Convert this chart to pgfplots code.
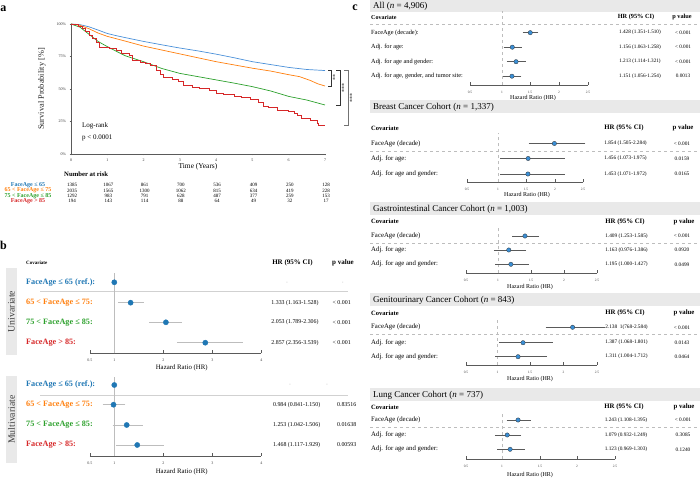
\documentclass[border=0pt]{standalone}
\usepackage{pgfplots}
\usepackage{pgfplotstable}
\pgfplotsset{compat=1.18}
\usepackage{fontspec}
\setmainfont{Liberation Serif}
\definecolor{cblue}{HTML}{1F77B4}
\definecolor{corange}{HTML}{FF7F0E}
\definecolor{cgreen}{HTML}{2CA02C}
\definecolor{cred}{HTML}{D62728}
\definecolor{kmblue}{HTML}{4A90D9}
\definecolor{ptblue}{HTML}{3A8FD6}
\definecolor{boxgray}{HTML}{E9E9E9}
\definecolor{axgray}{HTML}{5A5A5A}
\definecolor{ligray}{HTML}{BDBDBD}
\newcommand{\fs}[1]{\fontsize{#1}{#1}\selectfont}
\newcommand{\T}[4][]{\node[inner sep=0pt,#1] at (#2,478-#3) {#4};}

\pgfplotsset{
  cforest/.style={anchor=south west, x=66pt, y=1pt, enlargelimits=false, clip=false,
    axis x line*=bottom, axis y line=none,
    axis line style={axgray, line width=0.5pt},
    tick style={axgray, line width=0.4pt}, tick align=inside, major tick length=3pt,
    xticklabels={0.5,1,1.5,2,2.5},
    xticklabel style={font={\fs{3.5}}, text=black!75, yshift=-2.5pt},
    /pgf/number format/assume math mode=true},
  bforest/.style={anchor=south west, x=49pt, y=1pt, enlargelimits=false, clip=false,
    xmin=0.5, xmax=4, xtick={0.5,1,2,3,4}, xticklabels={0.5,1,2,3,4},
    axis x line*=bottom, axis y line=none,
    axis line style={axgray, line width=0.4pt},
    tick style={axgray, line width=0.4pt}, tick align=inside, major tick length=3pt,
    xticklabel style={font={\fs{4}}, text=black!75, yshift=-2pt},
    /pgf/number format/assume math mode=true},
  cbars/.style={draw=none, mark=none, forget plot,
    error bars/x dir=both, error bars/x explicit,
    error bars/error bar style={draw=axgray, line width=0.5pt},
    error bars/error mark options={draw=axgray, line width=0.5pt, mark size=2.6pt}},
  cpts/.style={only marks, mark=*, mark size=2.2pt, mark options={fill=ptblue, draw=black!80, line width=0.3pt}},
  bbars/.style={draw=none, mark=none, forget plot,
    error bars/x dir=both, error bars/x explicit,
    error bars/error bar style={draw=ligray, line width=0.5pt},
    error bars/error mark options={draw=ligray, line width=0.5pt, mark size=3.8pt}},
  bpts/.style={only marks, mark=*, mark size=2.6pt, mark options={fill=cblue, draw=cblue}},
}

% ---- panel c data: hr, lower, upper, row position
\pgfplotstableread{
hr lo hi y
1.428 1.351 1.510 445.3
1.156 1.063 1.258 430.8
1.213 1.114 1.321 416.3
1.151 1.056 1.254 401.8
}\tabAll
\pgfplotstableread{
hr lo hi y
1.854 1.505 2.284 334.5
1.456 1.073 1.975 319.5
1.453 1.071 1.972 304
}\tabBreast
\pgfplotstableread{
hr lo hi y
1.409 1.253 1.585 242
1.163 0.976 1.386 228
1.195 1.000 1.427 213.7
}\tabGastro
\pgfplotstableread{
hr lo hi y
2.138 1.768 2.584 150.7
1.387 1.068 1.801 135.3
1.311 1.004 1.712 121.3
}\tabGU
\pgfplotstableread{
hr lo hi y
1.243 1.108 1.395 58
1.079 0.932 1.249 43
1.123 0.969 1.303 28.7
}\tabLung
% ---- panel b data
\pgfplotstableread{
hr lo hi y
1.333 1.163 1.528 175.3
2.053 1.789 2.306 155.7
2.857 2.356 3.539 135.3
}\tabUni
\pgfplotstableread{
hr lo hi y
0.984 0.841 1.150 73.3
1.253 1.042 1.506 53
1.468 1.117 1.929 33
}\tabMulti
% ---- panel a survival curves (time in years, survival in %)
\pgfplotstableread{
t s
0 100
0.25 99.5
0.5 97.8
0.75 95.3
1 92.7
1.25 91
1.5 89.5
2 86.6
2.5 84
3 81.5
3.5 79.3
4 76.8
4.5 74
5 71
5.5 68.8
6 66.6
6.5 65
7 64.2
}\kmA
\pgfplotstableread{
t s
0 100
0.25 99
0.5 96.3
0.75 93
1 90.5
1.5 86.8
2 83
2.5 80
3 77
3.5 74
4 71
4.5 68.5
5 66
5.5 63.8
6 61
6.3 59.5
6.6 56.5
6.8 54
7 52.3
}\kmB
\pgfplotstableread{
t s
0 100
0.25 97.5
0.5 92
0.75 86.5
1 82.6
1.25 79
1.5 75.5
2 71
2.5 65.8
3 62
3.5 59.5
4 57
4.5 54.5
5 51.8
5.5 48.5
6 44.3
6.5 41.5
7 37.7
}\kmC
\pgfplotstableread{
t s
0 100
0.2 98.5
0.3 97
0.4 94
0.5 91
0.6 89
0.7 86
0.78 82
1.05 81
1.25 79.5
1.4 77.5
1.6 76
1.7 72
1.9 70.5
2.05 69.5
2.2 68
2.35 64.5
2.45 61
2.55 59
2.8 57.5
2.95 55.5
3.1 53
3.35 51
3.55 50.3
3.8 49
4.0 47
4.2 45.5
4.5 44.5
4.7 43.5
4.95 42
5.15 39.5
5.3 37
5.45 35.8
5.7 33.5
6.0 32.5
6.15 31
6.25 30
6.35 27.5
6.6 26
6.78 23.5
6.82 22.3
7 22.3
}\kmD

\begin{document}
\begin{tikzpicture}[x=1pt,y=1pt]
\path[use as bounding box] (0,0) rectangle (700,478);

%================ PANEL A =================
\T[font={\fs{12}\bfseries}]{3.5}{9}{a}
\begin{axis}[at={(71pt,324pt)}, anchor=south west, scale only axis, width=254pt, height=130pt,
  xmin=0, xmax=7, ymin=0, ymax=100, axis x line*=bottom, axis y line*=left,
  axis line style={axgray, line width=0.4pt},
  xtick={0,...,7}, ytick={0,25,50,75,100}, yticklabels={0\%,25\%,50\%,75\%,100\%},
  tick style={axgray, line width=0.3pt}, major tick length=1.5pt, tick align=outside,
  ticklabel style={font={\fs{4}}, text=black!80},
  /pgf/number format/assume math mode=true, clip=false]
\addplot[kmblue, line width=0.7pt] table[x=t,y=s] {\kmA};
\addplot[corange, line width=0.7pt] table[x=t,y=s] {\kmB};
\addplot[cgreen, line width=0.7pt] table[x=t,y=s] {\kmC};
\addplot[cred, line width=0.7pt, const plot] table[x=t,y=s] {\kmD};
\end{axis}
\node[rotate=90, font={\fs{8.3}}, text=black!85] at (42,478-89) {Survival Probability [\%]};
\T[font={\fs{7.4}}]{198}{167}{Time (Years)}
\T[anchor=west,font={\fs{7}}]{82}{126}{Log-rank}
\T[anchor=west,font={\fs{7}}]{82}{138}{p < 0.0001}
% significance brackets
\draw[black!80, line width=0.5pt] (328,478-70.5) -- (331,478-70.5) -- (331,478-86) -- (328,478-86);
\node[rotate=90, font={\fs{6}}] at (335,478-78) {**};
\draw[black!80, line width=0.5pt] (336,478-70.5) -- (340,478-70.5) -- (340,478-105) -- (336,478-105);
\node[rotate=90, font={\fs{6}}] at (344,478-88) {***};
\draw[black!55, line width=0.5pt] (344,478-70.5) -- (348,478-70.5) -- (348,478-125.4) -- (344,478-125.4);
\node[rotate=90, font={\fs{6}}] at (352,478-98) {***};
% number at risk
\T[anchor=west,font={\fs{6.7}\bfseries}]{64}{174}{Number at risk}
\T[font={\fs{6}\bfseries},text=cblue]{28}{185}{FaceAge ≤ 65}
\T[font={\fs{6}\bfseries},text=corange]{28}{190.4}{65 < FaceAge ≤ 75}
\T[font={\fs{6}\bfseries},text=cgreen]{28}{195.8}{75 < FaceAge ≤ 85}
\T[font={\fs{6}\bfseries},text=cred]{28}{201.2}{FaceAge > 85}
\foreach \v [count=\i from 0] in {1385,1067,861,700,536,409,250,128}
  {\T[font={\fs{5}}]{72+36.3*\i}{185}{\v}}
\foreach \v [count=\i from 0] in {2035,1565,1300,1062,815,634,419,228}
  {\T[font={\fs{5}}]{72+36.3*\i}{190.4}{\v}}
\foreach \v [count=\i from 0] in {1292,983,791,628,487,377,259,153}
  {\T[font={\fs{5}}]{72+36.3*\i}{195.8}{\v}}
\foreach \v [count=\i from 0] in {194,143,114,88,64,49,32,17}
  {\T[font={\fs{5}}]{72+36.3*\i}{201.2}{\v}}

%================ PANEL B =================
\T[font={\fs{12}\bfseries}]{3.5}{245}{b}
\T[anchor=west,font={\fs{5}\bfseries}]{26}{263}{Covariate}
\T[font={\fs{7}\bfseries}]{292.5}{263}{HR (95\% CI)}
\T[font={\fs{7}\bfseries}]{343}{263}{p value}
\fill[boxgray] (6,478-268) rectangle (17,478-355);
\node[rotate=90, font={\fs{9.8}}, text=black!75] at (11.5,478-311.5) {Univariate};
\fill[boxgray] (6,478-376) rectangle (17,478-463);
\node[rotate=90, font={\fs{9.8}}, text=black!75] at (11.5,478-419.5) {Multivariate};
\draw[ligray!70, line width=0.4pt] (40,478-291.7) -- (348,478-291.7);
\draw[ligray!70, line width=0.4pt] (40,478-395) -- (348,478-395);
% univariate
\begin{axis}[bforest, at={(89.8pt,124.7pt)}, ymin=124.7, ymax=210]
\addplot[ligray, line width=0.5pt, forget plot] coordinates {(1,124.7) (1,205)};
\addplot[bbars] table[x=hr, y=y, x error plus expr=\thisrow{hi}-\thisrow{hr}, x error minus expr=\thisrow{hr}-\thisrow{lo}] {\tabUni};
\addplot[bpts] coordinates {(1,195.7)};
\addplot[bpts] table[x=hr,y=y] {\tabUni};
\end{axis}
\T[font={\fs{6.8}}]{181.7}{368.3}{Hazard Ratio (HR)}
% multivariate
\begin{axis}[bforest, at={(89.8pt,22pt)}, ymin=22, ymax=105]
\addplot[ligray, line width=0.5pt, forget plot] coordinates {(1,22) (1,101)};
\addplot[bbars] table[x=hr, y=y, x error plus expr=\thisrow{hi}-\thisrow{hr}, x error minus expr=\thisrow{hr}-\thisrow{lo}] {\tabMulti};
\addplot[bpts] coordinates {(1,93)};
\addplot[bpts] table[x=hr,y=y] {\tabMulti};
\end{axis}
\T[font={\fs{6.8}}]{181.7}{471.7}{Hazard Ratio (HR)}
% labels
\foreach \yy/\lab/\col in {282.3/FaceAge ≤ 65 (ref.):/cblue, 302.7/65 < FaceAge ≤ 75:/corange, 322.3/75 < FaceAge ≤ 85:/cgreen, 342.7/FaceAge > 85:/cred,
  385/FaceAge ≤ 65 (ref.):/cblue, 404.7/65 < FaceAge ≤ 75:/corange, 425/75 < FaceAge ≤ 85:/cgreen, 445/FaceAge > 85:/cred}
  {\T[anchor=west,font={\fs{8.2}\bfseries},text=\col]{26}{\yy}{\lab}}
\T[font={\fs{4}},text=black!50]{287}{283}{-}
\T[font={\fs{4}},text=black!50]{342.7}{283}{-}
\T[font={\fs{5.9}}]{295}{302.7}{1.333 (1.163-1.528)}
\T[font={\fs{5.9}}]{295}{322.3}{2.053 (1.789-2.306)}
\T[font={\fs{5.9}}]{295}{342.7}{2.857 (2.356-3.539)}
\T[font={\fs{5.9}}]{341.7}{302.7}{< 0.001}
\T[font={\fs{5.9}}]{341.7}{322.3}{< 0.001}
\T[font={\fs{5.9}}]{341.7}{342.7}{< 0.001}
\T[font={\fs{4}},text=black!50]{290}{385}{-}
\T[font={\fs{4}},text=black!50]{327}{385}{-}
\T[font={\fs{5.9}}]{296.7}{404.7}{0.984 (0.841-1.150)}
\T[font={\fs{5.9}}]{296.7}{425}{1.253 (1.042-1.506)}
\T[font={\fs{5.9}}]{296.7}{445}{1.468 (1.117-1.929)}
\T[font={\fs{5.9}}]{346.7}{404.7}{0.83516}
\T[font={\fs{5.9}}]{346.7}{425}{0.01638}
\T[font={\fs{5.9}}]{346.7}{445}{0.00593}

%================ PANEL C =================
\T[font={\fs{12}\bfseries}]{355}{7.5}{c}
% --- All
\fill[boxgray] (370,478-0) rectangle (700,478-12);
\T[anchor=west,font={\fs{9}}]{373}{6}{All (\textit{n} = 4,906)}
\T[anchor=west,font={\fs{6}\bfseries}]{371}{17.3}{Covariate}
\T[font={\fs{6.3}\bfseries}]{636}{17.3}{HR (95\% CI)}
\T[font={\fs{6.3}\bfseries}]{682}{17.3}{p value}
\draw[dashed, ligray, line width=0.4pt] (370,478-24) -- (697,478-24);
\begin{axis}[cforest, at={(470pt,393pt)}, xmin=0.5152, xmax=2.303, ymin=393, ymax=470,
  xtick={0.5152,1,1.4242,1.8636,2.303}]
\addplot[dashed, ligray, line width=0.4pt, forget plot] coordinates {(1,393) (1,467)};
\addplot[cbars] table[x=hr, y=y, x error plus expr=\thisrow{hi}-\thisrow{hr}, x error minus expr=\thisrow{hr}-\thisrow{lo}] {\tabAll};
\addplot[cpts] table[x=hr,y=y] {\tabAll};
\end{axis}
\T[anchor=west,font={\fs{6.3}}]{371}{32.7}{FaceAge (decade):}
\T[anchor=west,font={\fs{6.3}}]{371}{47.2}{Adj. for age:}
\T[anchor=west,font={\fs{6.3}}]{371}{61.7}{Adj. for age and gender:}
\T[anchor=west,font={\fs{6.3}}]{371}{76.2}{Adj. for age, gender, and tumor site:}
\T[font={\fs{5.2}}]{640}{32.7}{1.428 (1.351-1.510)}
\T[font={\fs{5.2}}]{640}{47.2}{1.156 (1.063-1.258)}
\T[font={\fs{5.2}}]{640}{61.7}{1.213 (1.114-1.321)}
\T[font={\fs{5.2}}]{640}{76.2}{1.151 (1.056-1.254)}
\T[font={\fs{5.2}}]{683}{32.7}{< 0.001}
\T[font={\fs{5.2}}]{683}{47.2}{< 0.001}
\T[font={\fs{5.2}}]{683}{61.7}{< 0.001}
\T[font={\fs{5.2}}]{683}{76.2}{0.0013}
\T[font={\fs{6}}]{533}{98}{Hazard Ratio (HR)}
% --- Breast
\fill[boxgray] (370,478-100.5) rectangle (700,478-113.5);
\T[anchor=west,font={\fs{9}}]{373}{107}{Breast Cancer Cohort (\textit{n} = 1,337)}
\T[anchor=west,font={\fs{6.5}\bfseries}]{371}{128.3}{Covariate}
\T[font={\fs{6.8}\bfseries}]{624}{128.3}{HR (95\% CI)}
\T[font={\fs{6.8}\bfseries}]{683}{128.3}{p value}
\draw[dashed, ligray, line width=0.4pt] (370,478-151) -- (697,478-151);
\begin{axis}[cforest, at={(467pt,295.5pt)}, xmin=0.5303, xmax=2.2879, ymin=295.5, ymax=350,
  xtick={0.5303,1,1.4242,1.8636,2.2879}]
\addplot[dashed, ligray, line width=0.4pt, forget plot] coordinates {(1,295.5) (1,345)};
\addplot[cbars] table[x=hr, y=y, x error plus expr=\thisrow{hi}-\thisrow{hr}, x error minus expr=\thisrow{hr}-\thisrow{lo}] {\tabBreast};
\addplot[cpts] table[x=hr,y=y] {\tabBreast};
\end{axis}
\T[anchor=west,font={\fs{6.8}}]{371}{143.5}{FaceAge (decade)}
\T[anchor=west,font={\fs{6.8}}]{371}{158.5}{Adj. for age:}
\T[anchor=west,font={\fs{6.8}}]{371}{174}{Adj. for age and gender:}
\T[font={\fs{5.3}}]{625.5}{143.5}{1.854 (1.505-2.284)}
\T[font={\fs{5.3}}]{625.5}{158.5}{1.456 (1.073-1.975)}
\T[font={\fs{5.3}}]{625.5}{174}{1.453 (1.071-1.972)}
\T[font={\fs{5.3}}]{682}{143.5}{< 0.001}
\T[font={\fs{5.3}}]{682}{158.5}{0.0159}
\T[font={\fs{5.3}}]{682}{174}{0.0165}
\T[font={\fs{6}}]{527}{195}{Hazard Ratio (HR)}
% --- Gastrointestinal
\fill[boxgray] (370,478-202.5) rectangle (700,478-215.5);
\T[anchor=west,font={\fs{9}}]{373}{209}{Gastrointestinal Cancer Cohort (\textit{n} = 1,003)}
\T[anchor=west,font={\fs{6.5}\bfseries}]{371}{221.7}{Covariate}
\T[font={\fs{6.8}\bfseries}]{625}{221.7}{HR (95\% CI)}
\T[font={\fs{6.8}\bfseries}]{684}{221.7}{p value}
\draw[dashed, ligray, line width=0.4pt] (370,478-243) -- (697,478-243);
\begin{axis}[cforest, at={(466pt,204.7pt)}, xmin=0.5152, xmax=2.5, ymin=204.7, ymax=255,
  xtick={0.5152,1,1.5,2,2.5}]
\addplot[dashed, ligray, line width=0.4pt, forget plot] coordinates {(1,204.7) (1,251)};
\addplot[cbars] table[x=hr, y=y, x error plus expr=\thisrow{hi}-\thisrow{hr}, x error minus expr=\thisrow{hr}-\thisrow{lo}] {\tabGastro};
\addplot[cpts] table[x=hr,y=y] {\tabGastro};
\end{axis}
\T[anchor=west,font={\fs{6.8}}]{371}{236}{FaceAge (decade)}
\T[anchor=west,font={\fs{6.8}}]{371}{250}{Adj. for age:}
\T[anchor=west,font={\fs{6.8}}]{371}{264.3}{Adj. for age and gender:}
\T[font={\fs{5.3}}]{626.5}{236}{1.409 (1.253-1.585)}
\T[font={\fs{5.3}}]{626.5}{250}{1.163 (0.976-1.386)}
\T[font={\fs{5.3}}]{626.5}{264.3}{1.195 (1.000-1.427)}
\T[font={\fs{5.3}}]{682}{236}{< 0.001}
\T[font={\fs{5.3}}]{682}{250}{0.0920}
\T[font={\fs{5.3}}]{682}{264.3}{0.0499}
\T[font={\fs{6}}]{530}{286.7}{Hazard Ratio (HR)}
% --- Genitourinary
\fill[boxgray] (370,478-293.5) rectangle (700,478-306.5);
\T[anchor=west,font={\fs{9}}]{373}{300}{Genitourinary Cancer Cohort (\textit{n} = 843)}
\T[anchor=west,font={\fs{6.5}\bfseries}]{371}{313.3}{Covariate}
\T[font={\fs{6.8}\bfseries}]{625}{313.3}{HR (95\% CI)}
\T[font={\fs{6.8}\bfseries}]{684}{313.3}{p value}
\draw[dashed, ligray, line width=0.4pt] (370,478-334.5) -- (697,478-334.5);
\begin{axis}[cforest, at={(466pt,113pt)}, xmin=0.5227, xmax=2.5076, ymin=113, ymax=165,
  xtick={0.5227,1,1.4924,2,2.5076}]
\addplot[dashed, ligray, line width=0.4pt, forget plot] coordinates {(1,113) (1,160)};
\addplot[cbars] table[x=hr, y=y, x error plus expr=\thisrow{hi}-\thisrow{hr}, x error minus expr=\thisrow{hr}-\thisrow{lo}] {\tabGU};
\addplot[cpts] table[x=hr,y=y] {\tabGU};
\end{axis}
\T[anchor=west,font={\fs{6.8}}]{371}{327.3}{FaceAge (decade)}
\T[anchor=west,font={\fs{6.8}}]{371}{342.7}{Adj. for age:}
\T[anchor=west,font={\fs{6.8}}]{371}{356.7}{Adj. for age and gender:}
\T[font={\fs{5.3}}]{626.5}{327.3}{2.138 \ 1(768-2.584)}
\T[font={\fs{5.3}}]{626.5}{342.7}{1.387 (1.068-1.801)}
\T[font={\fs{5.3}}]{626.5}{356.7}{1.311 (1.004-1.712)}
\T[font={\fs{5.3}}]{682}{327.3}{< 0.001}
\T[font={\fs{5.3}}]{682}{342.7}{0.0143}
\T[font={\fs{5.3}}]{682}{356.7}{0.0464}
\T[font={\fs{6}}]{530}{379.3}{Hazard Ratio (HR)}
% --- Lung
\fill[boxgray] (370,478-388.5) rectangle (700,478-401.5);
\T[anchor=west,font={\fs{9}}]{373}{395}{Lung Cancer Cohort (\textit{n} = 737)}
\T[anchor=west,font={\fs{6.5}\bfseries}]{371}{407.3}{Covariate}
\T[font={\fs{6.8}\bfseries}]{624}{407.3}{HR (95\% CI)}
\T[font={\fs{6.8}\bfseries}]{684}{407.3}{p value}
\draw[dashed, ligray, line width=0.4pt] (370,478-427.5) -- (697,478-427.5);
\begin{axis}[cforest, at={(466pt,18.7pt)}, xmin=0.4545, xmax=2.7121, ymin=18.7, ymax=70,
  xtick={0.4545,1,1.5758,2.1364,2.7121}]
\addplot[dashed, ligray, line width=0.4pt, forget plot] coordinates {(1,18.7) (1,66)};
\addplot[cbars] table[x=hr, y=y, x error plus expr=\thisrow{hi}-\thisrow{hr}, x error minus expr=\thisrow{hr}-\thisrow{lo}] {\tabLung};
\addplot[cpts] table[x=hr,y=y] {\tabLung};
\end{axis}
\T[anchor=west,font={\fs{6.8}}]{371}{420}{FaceAge (decade)}
\T[anchor=west,font={\fs{6.8}}]{371}{435}{Adj. for age:}
\T[anchor=west,font={\fs{6.8}}]{371}{449.3}{Adj. for age and gender:}
\T[font={\fs{5.3}}]{626}{420}{1.243 (1.108-1.395)}
\T[font={\fs{5.3}}]{626}{435}{1.079 (0.932-1.249)}
\T[font={\fs{5.3}}]{626}{449.3}{1.123 (0.969-1.303)}
\T[font={\fs{5.3}}]{683}{420}{< 0.001}
\T[font={\fs{5.3}}]{683}{435}{0.3085}
\T[font={\fs{5.3}}]{683}{449.3}{0.1240}
\T[font={\fs{6}}]{530}{475}{Hazard Ratio (HR)}
\end{tikzpicture}
\end{document}
